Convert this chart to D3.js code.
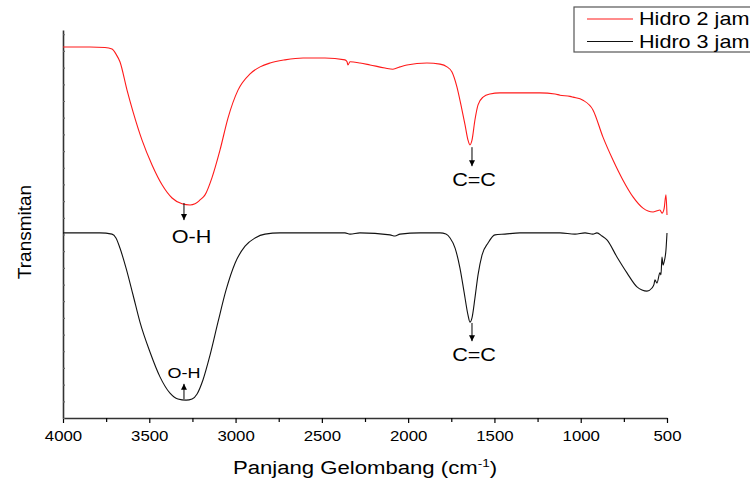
<!DOCTYPE html>
<html>
<head>
<meta charset="utf-8">
<script src="https://cdn.jsdelivr.net/npm/d3@7"></script>
<style>
  body { margin: 0; background: #fff; }
  text { font-family: "Liberation Sans", Arial, sans-serif; fill: #000; }
</style>
</head>
<body>
<div id="chart"></div>
<script>
// wavenumber (cm-1), transmittance (arbitrary units)
const hidro2 = [
  [4000,95.6],[3844,95.6],[3757,95.5],[3716,95.1],[3693,93.8],[3670,91.8],[3629,84.5],[3594,78.9],
  [3542,71.6],[3484,65.2],[3426,60.1],[3368,56.7],[3310,55.2],[3264,54.9],[3235,55.2],[3206,56.2],
  [3177,57.5],[3137,61.9],[3090,69.1],[3044,77.3],[2986,84.5],[2916,88.7],[2858,90.5],[2800,91.5],
  [2714,92.3],[2609,92.8],[2482,92.8],[2366,92.3],[2354,91.8],[2349,91.0],[2337,91.8],[2279,91.5],
  [2221,91.0],[2134,90.2],[2088,89.9],[2047,90.5],[2007,91.0],[1891,91.5],[1815,91.2],[1775,90.5],
  [1746,89.2],[1717,85.3],[1694,80.7],[1670,75.5],[1653,71.6],[1642,70.4],[1630,71.6],[1613,76.8],
  [1595,80.7],[1566,82.7],[1526,83.5],[1468,83.8],[1352,83.8],[1236,83.8],[1149,83.5],[1120,83.2],
  [1062,82.9],[1045,82.7],[987,81.9],[929,79.4],[871,72.4],[813,66.5],[755,61.3],[697,57.0],
  [639,54.1],[581,53.1],[558,53.4],[541,53.6],[529,52.8],[517,53.9],[506,57.5],[500,52.3]
];

const hidro3 = [
  [4000,47.7],[3786,47.7],[3716,47.4],[3693,46.4],[3670,43.8],[3635,38.7],[3594,31.7],[3554,24.7],
  [3496,17.0],[3438,10.6],[3380,6.4],[3334,4.9],[3287,4.6],[3252,4.9],[3223,6.2],[3189,9.8],
  [3148,16.2],[3102,24.7],[3055,33.0],[3003,39.9],[2945,44.3],[2887,46.4],[2829,47.4],[2743,47.7],
  [2511,47.7],[2366,47.7],[2337,47.4],[2279,47.7],[2105,47.2],[2076,46.9],[2047,47.4],[1931,47.7],
  [1815,47.7],[1781,47.4],[1757,46.4],[1728,43.8],[1700,38.7],[1676,32.5],[1653,26.5],[1642,24.7],
  [1630,25.8],[1613,30.9],[1595,36.9],[1572,42.0],[1537,45.1],[1497,47.2],[1439,47.4],[1352,47.7],
  [1120,47.7],[1033,47.4],[975,47.7],[929,47.4],[906,47.7],[877,46.9],[848,45.9],[790,41.5],
  [732,37.4],[674,33.8],[645,33.0],[616,32.7],[587,33.5],[575,34.5],[570,35.6],[558,34.8],
  [541,37.4],[535,36.9],[529,41.5],[523,39.4],[517,40.2],[506,43.3],[500,47.7]
];

const seriesNames = ["Hidro 2 jam", "Hidro 3 jam"];
const seriesColors = ["#ff1a1a", "#111111"];
const xMajorTicks = [4000, 3500, 3000, 2500, 2000, 1500, 1000, 500];
const xMinorTicks = [3750, 3250, 2750, 2250, 1750, 1250, 750];

// peak labels: wavenumber, arrow start, arrow end, label y (all in data units)
const peakLabels = [
  { text: "O-H", w: 3299, from: 55.4, to: 51.0, ty: 45.1, tw: 3255, size: 18 },
  { text: "O-H", w: 3299, from: 4.9, to: 8.8, ty: 10.3, tw: 3299, size: 15 },
  { text: "C=C", w: 1630, from: 69.8, to: 64.9, ty: 59.8, tw: 1618, size: 18 },
  { text: "C=C", w: 1630, from: 24.5, to: 19.8, ty: 14.7, tw: 1618, size: 18 }
];

// the source picture is a little wider than tall, so text is stretched sideways
const stretch = 1.2;

const W = 750, H = 482;
const svg = d3.select("#chart").append("svg")
  .attr("width", W).attr("height", H);

const x = d3.scaleLinear().domain([4000, 500]).range([63, 667]);
const y = d3.scaleLinear().domain([0, 100]).range([418, 30]);

// arrow head
svg.append("defs").append("marker")
  .attr("id", "head")
  .attr("viewBox", "0 0 10 10")
  .attr("refX", 10).attr("refY", 5)
  .attr("markerWidth", 6).attr("markerHeight", 7)
  .attr("markerUnits", "userSpaceOnUse")
  .attr("orient", "auto")
  .append("path")
  .attr("d", "M0,0L10,5L0,10Z")
  .attr("fill", "#000");

// x axis
const xAxisG = svg.append("g")
  .attr("transform", `translate(0,418)`)
  .call(d3.axisBottom(x).tickValues(xMajorTicks).tickFormat(d3.format("d")).tickSize(5).tickSizeOuter(0).tickPadding(8));
xAxisG.selectAll("text")
  .style("font-size", "14px")
  .style("font-family", "Liberation Sans, Arial, sans-serif")
  .attr("transform", `scale(${stretch},1)`);
svg.append("g")
  .attr("transform", `translate(0,418)`)
  .call(d3.axisBottom(x).tickValues(xMinorTicks).tickFormat("").tickSize(4).tickSizeOuter(0))
  .select(".domain").remove();

// y axis: no labels, tiny inner ticks
const yAxisG = svg.append("g")
  .attr("transform", `translate(63,0)`)
  .call(d3.axisLeft(y).tickValues(d3.range(0, 100, 4.3)).tickFormat("").tickSize(-2).tickSizeOuter(0));
yAxisG.selectAll(".tick line").attr("stroke", "#666");

svg.selectAll(".domain").attr("stroke", "#333").attr("stroke-width", 1.6);
svg.selectAll(".tick line").attr("stroke-width", 1.2);

// spectra
const line = d3.line()
  .x(d => x(d[0]))
  .y(d => y(d[1]))
  .curve(d3.curveMonotoneX);

[hidro2, hidro3].forEach((data, i) => {
  svg.append("path")
    .datum(data)
    .attr("fill", "none")
    .attr("stroke", seriesColors[i])
    .attr("stroke-width", 1.1)
    .attr("d", line);
});

// peak annotations
peakLabels.forEach(p => {
  svg.append("line")
    .attr("x1", x(p.w)).attr("x2", x(p.w))
    .attr("y1", y(p.from)).attr("y2", y(p.to))
    .attr("stroke", "#000").attr("stroke-width", 1)
    .attr("marker-end", "url(#head)");
  svg.append("text")
    .attr("transform", `translate(${x(p.tw)},${y(p.ty)}) scale(${stretch},1)`)
    .attr("text-anchor", "middle")
    .style("font-size", p.size + "px")
    .text(p.text);
});

// axis titles
svg.append("text")
  .attr("transform", `translate(365,474) scale(1.23,1)`)
  .attr("text-anchor", "middle")
  .style("font-size", "18px")
  .html('Panjang Gelombang (cm<tspan dy="-7" font-size="11">-1</tspan><tspan dy="7">)</tspan>');

svg.append("text")
  .attr("transform", "translate(31,232) rotate(-90)")
  .attr("text-anchor", "middle")
  .style("font-size", "19px")
  .text("Transmitan");

// legend
const legend = svg.append("g");
legend.append("rect")
  .attr("x", 574).attr("y", 7)
  .attr("width", 200).attr("height", 45)
  .attr("fill", "#fff").attr("stroke", "#555").attr("stroke-width", 1.2);
seriesNames.forEach((name, i) => {
  const ly = 19 + i * 22.5;
  legend.append("line")
    .attr("x1", 587).attr("x2", 633)
    .attr("y1", ly).attr("y2", ly)
    .attr("stroke", seriesColors[i]).attr("stroke-width", 1.1);
  legend.append("text")
    .attr("transform", `translate(639,${ly + 6}) scale(${stretch},1)`)
    .style("font-size", "18px")
    .text(name);
});
</script>
</body>
</html>
